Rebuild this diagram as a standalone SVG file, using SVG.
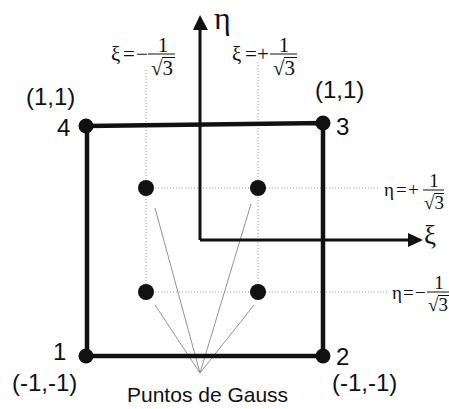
<svg xmlns="http://www.w3.org/2000/svg" width="449" height="409" viewBox="0 0 449 409">
<style>
.box{fill:none;stroke:#111;stroke-width:4.5;stroke-linejoin:miter}
.axis{stroke:#111;stroke-width:3;fill:none}
.dot{stroke:#999;stroke-width:1;stroke-dasharray:1 2;fill:none}
.lead{stroke:#777;stroke-width:0.8;fill:none}
.sans{font-family:"Liberation Sans",Arial,sans-serif;fill:#111}
.corner{font-size:24px}
.m{font-family:"Liberation Serif","Times New Roman",serif;fill:#111}
.ms{font-size:21px}
.mf{font-size:21px}
.rs{font-size:19px}
.bar{stroke:#111;stroke-width:1}
</style>
<rect width="449" height="409" fill="#fff"/>
<g id="gridlines">
<line class="dot" x1="146" y1="70" x2="146" y2="292"/>
<line class="dot" x1="258" y1="62" x2="258" y2="292"/>
<line class="dot" x1="146" y1="188" x2="378" y2="188"/>
<line class="dot" x1="146" y1="292" x2="389" y2="292"/>
</g>
<g id="connectors">
<line class="lead" x1="200" y1="373" x2="155" y2="208"/>
<line class="lead" x1="200" y1="373" x2="251" y2="204"/>
<line class="lead" x1="200" y1="373" x2="155" y2="305"/>
<line class="lead" x1="200" y1="373" x2="254" y2="305"/>
</g>
<g id="axes">
<path class="axis" d="M200,240 V28 M200,240 H409"/>
<polygon points="200,15 193,30 208,30" fill="#111"/>
<polygon points="423,240 408,233 408,247" fill="#111"/>
<text class="m" x="214" y="29" font-size="32">η</text>
<text class="m" x="424" y="244" font-size="27">ξ</text>
</g>
<g id="element">
<polygon class="box" points="87,126 323,123 323,356 87,356"/>
</g>
<g id="node4"><circle cx="86" cy="126" r="7.5" fill="#111"/><text class="sans corner" x="57" y="136">4</text><text class="sans corner" x="26" y="105">(1,1)</text></g>
<g id="node3"><circle cx="323" cy="123" r="7.5" fill="#111"/><text class="sans corner" x="336" y="135">3</text><text class="sans corner" x="315" y="98">(1,1)</text></g>
<g id="node1"><circle cx="86" cy="356" r="7.5" fill="#111"/><text class="sans corner" x="53" y="360">1</text><text class="sans corner" x="12" y="391">(-1,-1)</text></g>
<g id="node2"><circle cx="323" cy="356" r="7.5" fill="#111"/><text class="sans corner" x="336" y="365">2</text><text class="sans corner" x="332" y="391">(-1,-1)</text></g>
<g id="gauss">
<circle cx="146" cy="188" r="8" fill="#111"/>
<circle cx="258" cy="188" r="8" fill="#111"/>
<circle cx="146" cy="292" r="8" fill="#111"/>
<circle cx="258" cy="292" r="8" fill="#111"/>
</g>
<g id="label-xi-minus">
<text class="m ms" x="111" y="61">ξ</text>
<text class="m ms" x="123" y="61">=</text>
<text class="m ms" x="136" y="61">−</text>
<line class="bar" x1="148" y1="54" x2="175" y2="54"/>
<text class="m mf" x="163" y="52" text-anchor="middle">1</text>
<text class="m mf" x="151" y="75">√3</text>
<line class="bar" x1="162" y1="57.5" x2="175" y2="57.5"/>
</g>
<g id="label-xi-plus">
<text class="m ms" x="232" y="61">ξ</text>
<text class="m ms" x="245" y="61">=</text>
<text class="m ms" x="257" y="61">+</text>
<line class="bar" x1="270" y1="54" x2="297" y2="54"/>
<text class="m mf" x="284" y="52" text-anchor="middle">1</text>
<text class="m mf" x="273" y="75">√3</text>
<line class="bar" x1="284" y1="57.5" x2="297" y2="57.5"/>
</g>
<g id="label-eta-plus">
<text class="m rs" x="384" y="196">η</text>
<text class="m rs" x="396" y="196">=</text>
<text class="m rs" x="408" y="196">+</text>
<line class="bar" x1="423" y1="190" x2="444" y2="190"/>
<text class="m rs" x="434" y="187" text-anchor="middle">1</text>
<text class="m rs" x="424" y="209">√3</text>
<line class="bar" x1="434" y1="193.5" x2="444" y2="193.5"/>
</g>
<g id="label-eta-minus">
<text class="m rs" x="392" y="299">η</text>
<text class="m rs" x="403" y="299">=</text>
<text class="m rs" x="415" y="299">−</text>
<line class="bar" x1="427" y1="292" x2="449" y2="292"/>
<text class="m rs" x="439" y="289" text-anchor="middle">1</text>
<text class="m rs" x="428" y="311">√3</text>
<line class="bar" x1="438" y1="295.5" x2="449" y2="295.5"/>
</g>
<text class="sans" x="127" y="402" font-size="21">Puntos de Gauss</text>
</svg>
